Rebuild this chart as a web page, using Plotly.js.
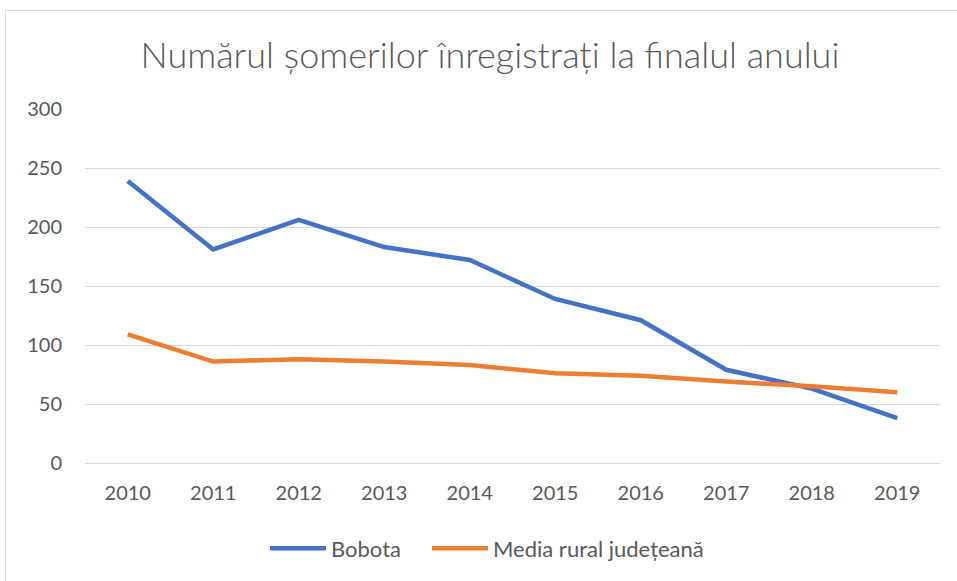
<!DOCTYPE html>
<html><head><meta charset="utf-8">
<script src="https://cdn.plot.ly/plotly-3.0.1.min.js"></script>
<style>
html,body{margin:0;padding:0;background:#fff;overflow:hidden;width:957px;height:581px;}
#frame{position:absolute;left:5px;top:10px;width:1000px;height:1000px;border:1px solid #d9d9d9;box-sizing:border-box;}
#chart{position:absolute;left:0;top:0;width:957px;height:581px;}
</style></head>
<body>
<div id="frame"></div>
<div id="chart"></div>
<script>
const years = ["2010","2011","2012","2013","2014","2015","2016","2017","2018","2019"];
const bobota = [239, 181, 206, 183, 172, 139, 121, 79, 63, 38];
const mediaRural = [109, 86, 88, 86, 83, 76, 74, 69, 65, 60];
const yTicks = [0, 50, 100, 150, 200, 250, 300];

const fontFam = "Lato, 'Open Sans', sans-serif";
const traces = [
  {x: years, y: bobota, name: "Bobota", type: "scatter", mode: "lines", legend: "legend",
   line: {color: "#4472C4", width: 4.5}},
  {x: years, y: mediaRural, name: "Media rural județeană", type: "scatter", mode: "lines", legend: "legend2",
   line: {color: "#ED7D31", width: 4.5}}
];
const legBase = {orientation: "h", xref: "container", xanchor: "left", y: 0.056, yref: "container", yanchor: "middle",
  font: {family: fontFam, size: 22, color: "#595959"}, itemwidth: 56, bgcolor: "rgba(0,0,0,0)"};
const layout = {
  width: 957, height: 581,
  paper_bgcolor: "rgba(0,0,0,0)", plot_bgcolor: "rgba(0,0,0,0)",
  margin: {l: 85, r: 17, t: 109, b: 118},
  title: {text: "Numărul șomerilor înregistrați la finalul anului",
          font: {family: fontFam, size: 36, color: "#595959", weight: 300},
          xref: "container", x: 0.512, xanchor: "center", yref: "container", y: 0.905, yanchor: "middle"},
  xaxis: {type: "category", range: [-0.5, 9.5], showgrid: false, zeroline: false,
          showline: true, linecolor: "#d9d9d9", linewidth: 1, ticks: "", ticklen: 0,
          tickfont: {family: fontFam, size: 20, color: "#595959"}, ticklabelstandoff: 12, fixedrange: true},
  yaxis: {range: [0, 300], tickvals: yTicks, showgrid: true, gridcolor: "#d9d9d9", gridwidth: 1,
          zeroline: false, showline: false, ticks: "",
          tickfont: {family: fontFam, size: 20, color: "#595959"}, ticklabelstandoff: 22, fixedrange: true},
  showlegend: true,
  legend: Object.assign({}, legBase, {x: 265/957}),
  legend2: Object.assign({}, legBase, {x: 427/957})
};
Plotly.newPlot("chart", traces, layout, {displayModeBar: false, staticPlot: true});
</script>
</body></html>
